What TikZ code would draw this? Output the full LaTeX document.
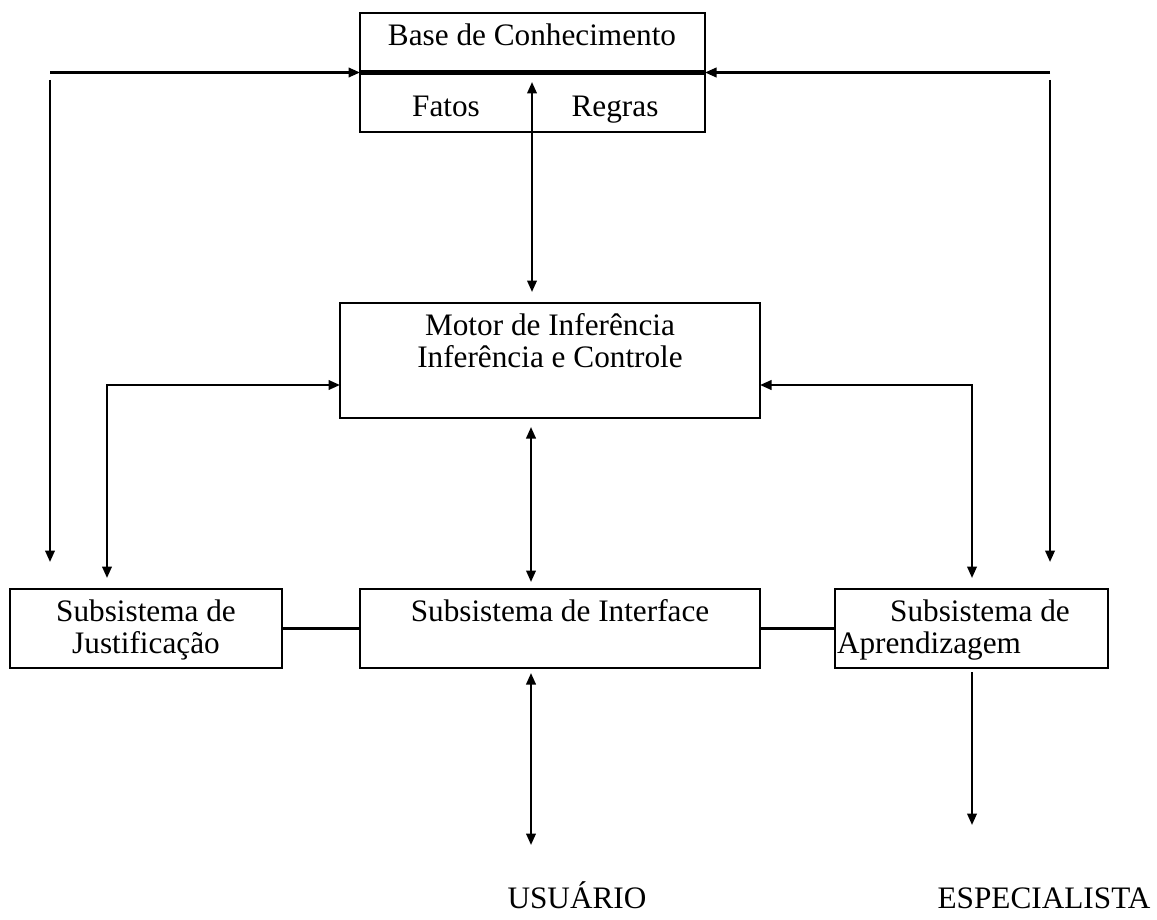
\documentclass[tikz,border=0pt]{standalone}
\usepackage{fontspec}
\setmainfont{Liberation Serif}
\usetikzlibrary{arrows.meta}

\begin{document}
\begin{tikzpicture}[x=0.4pt, y=-0.4pt,
  every node/.style={outer sep=0pt, font=\fontsize{12.5}{15}\selectfont},
  box/.style={draw, line width=0.9pt, inner sep=0pt},
  txt/.style={anchor=base, inner sep=0pt},
  con/.style={line width=0.9pt},
  >={Triangle[length=4.6pt, width=3.8pt]}]
\useasboundingbox (0,0) rectangle (1157,919);

\node[box, minimum width=138pt, minimum height=47.6pt] (base) at (532.5,72.5) {};
\node[box, minimum width=168pt, minimum height=46pt] (motor) at (550,360.5) {};
\node[box, minimum width=108.8pt, minimum height=31.6pt] (just) at (146,628.5) {};
\node[box, minimum width=160pt, minimum height=31.6pt] (inter) at (560,628.5) {};
\node[box, minimum width=109.2pt, minimum height=31.6pt] (apren) at (971.5,628.5) {};
\draw[line width=2pt] (base.west) -- (base.east);

\node[txt] (tbase) at (532,46) {Base de Conhecimento};
\node[txt] (tfatos) at (446,117) {Fatos};
\node[txt] (tregras) at (615,117) {Regras};
\node[txt] (tmotor) at (550,335) {Motor de Inferência};
\node[txt] (tcontrole) at (550,367) {Inferência e Controle};
\node[txt] (tjust1) at (146,621) {Subsistema de};
\node[txt] (tjust2) at (146,653) {Justificação};
\node[txt] (tinter) at (560,621) {Subsistema de Interface};
\node[txt] (tapren1) at (980,621) {Subsistema de};
\node[txt, anchor=base west] (tapren2) at (837,653) {Aprendizagem};
\node[txt] (usuario) at (577,908) {USUÁRIO};
\node[txt] (especialista) at (1044,908) {ESPECIALISTA};

\coordinate (tl) at (50,72.5);
\coordinate (tr) at (1050,72.5);
\coordinate (lv) at (50,80);
\coordinate (lvend) at (50,562);
\coordinate (rv) at (1050,80);
\coordinate (rvend) at (1050,562);
\coordinate (kbc) at (532,82);
\coordinate (mrow) at (0,385);
\coordinate (jtop) at (107,578);
\coordinate (atop) at (972,578);
\coordinate (mi) at (531,0);
\coordinate (uend) at (531,845);
\coordinate (eend) at (972,825);

% ligacoes da base
\draw[con,->] (tl) -- (base.west);
\draw[con,->] (tr) -- (base.east);
\draw[con,->] (lv) -- (lvend);
\draw[con,->] (rv) -- (rvend);
\draw[con,<->,shorten >=4.4pt] (kbc) -- (kbc |- motor.north);

% ligacoes do motor
\draw[con,<->] (jtop) |- (motor.west |- mrow);
\draw[con,<->] (atop) |- (motor.east |- mrow);
\draw[con,<->,shorten <=3.6pt,shorten >=2.8pt] (motor.south -| mi) -- (inter.north -| mi);

\draw[con] (just.east) -- (inter.west);
\draw[con] (inter.east) -- (apren.west);
\draw[con,<->,shorten <=2pt] (inter.south -| mi) -- (uend);
\draw[con,->,shorten <=1.6pt] (apren.south -| atop) -- (eend);
\end{tikzpicture}
\end{document}
